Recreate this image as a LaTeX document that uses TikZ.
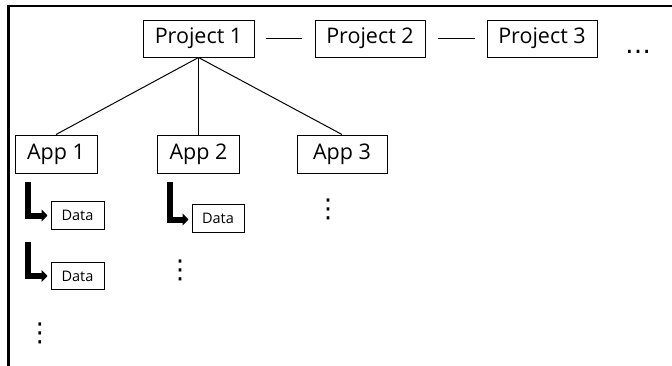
\documentclass[tikz,border=0pt]{standalone}
\usepackage{fontspec}
\setmainfont{Open Sans}
\newfontfamily\dotfont{DejaVu Sans}
\usetikzlibrary{arrows.meta}
\begin{document}
\begin{tikzpicture}[x=1pt,y=-1pt,
  box/.style={draw, line width=1pt, inner sep=0pt, minimum height=37pt, font=\fontsize{21.5}{24}\selectfont},
  databox/.style={draw, line width=1pt, inner sep=0pt, minimum width=53pt, minimum height=27.5pt, font=\fontsize{14.5}{16}\selectfont},
  link/.style={line width=1pt},
  larrow/.style={line width=6pt, -{Triangle[length=6pt,width=12pt]}, shorten >=3pt},
  vdotsnode/.style={inner sep=0pt, font=\dotfont\fontsize{26}{28}\selectfont},
  hdotsnode/.style={inner sep=0pt, font=\dotfont\fontsize{26}{28}\selectfont},
  frameline/.style={line width=2.5pt}]
\useasboundingbox (0,0) rectangle (672,365);
% frame
\draw[frameline] (8.5,366) |- (673,5.8);
% projects
\node[box, minimum width=111pt] (p1) at (198.5,38.5) {Project 1};
\node[box, minimum width=110pt] (p2) at (370,38.5) {Project 2};
\node[box, minimum width=110pt] (p3) at (542,38.5) {Project 3};
\node[hdotsnode, anchor=base] (more) at (638,53) {…};
\draw[link] ([xshift=11pt]p1.east) -- ([xshift=-13pt]p2.west);
\draw[link] ([xshift=12pt]p2.east) -- ([xshift=-12pt]p3.west);
% apps
\node[box, minimum width=82pt, minimum height=38pt] (a1) at (56,154) {App 1};
\node[box, minimum width=82pt, minimum height=38pt] (a2) at (198.5,154) {App 2};
\node[box, minimum width=90pt, minimum height=38pt] (a3) at (342,154) {App 3};
\draw[link] (p1.south) -- (a1.north);
\draw[link] (p1.south) -- (a2.north);
\draw[link] (p1.south) -- (a3.north);
% data
\node[databox] (d1) at (77.5,215.5) {Data};
\node[databox] (d2) at (77.5,276) {Data};
\node[databox, minimum width=52pt, minimum height=28pt] (d3) at (218,218) {Data};
\coordinate (c1) at (28,182);
\coordinate (c2) at (28,242);
\coordinate (c3) at (169.5,182);
\draw[larrow] (c1) |- (d1.west);
\draw[larrow] (c2) |- (d2.west);
\draw[larrow] (c3) |- ([yshift=-1.5pt]d3.west);
% vertical dots
\node[vdotsnode, anchor=base] (v1) at (40,341) {⋮};
\node[vdotsnode, anchor=base] (v2) at (180,278) {⋮};
\node[vdotsnode, anchor=base] (v3) at (328,217) {⋮};
\end{tikzpicture}
\end{document}
